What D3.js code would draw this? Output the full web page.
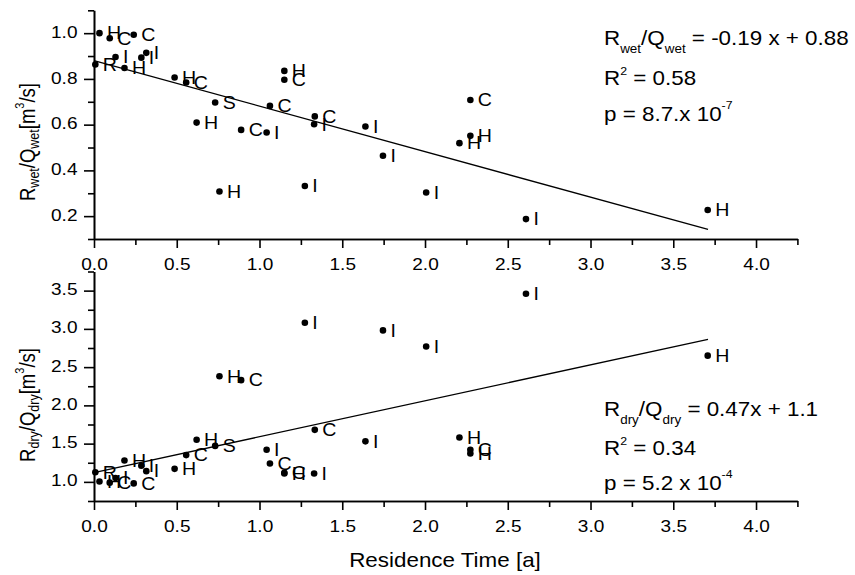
<!DOCTYPE html>
<html>
<head>
<meta charset="utf-8">
<script src="https://cdn.jsdelivr.net/npm/d3@7"></script>
<style>
  body { margin: 0; background: #fff; }
  svg { font-family: "Liberation Sans", Arial, sans-serif; }
  .axis path, .axis line { stroke: #000; stroke-width: 1.6px; }
  .axis text { fill: #000; font-size: 17px; }
</style>
</head>
<body>
<svg width="855" height="575"></svg>
<script>
// site type of each catchment
const sites = ["R","H","C","I","H","C","I","I","H","C",
               "H","S","H","C","I","C","H","C","I","I",
               "C","I","I","I","H","C","H","I","H"];
// residence time [a]
const residenceTime = [0.008,0.033,0.095,0.13,0.184,0.24,0.286,0.316,0.487,0.557,
                       0.62,0.732,0.758,0.889,1.043,1.063,1.15,1.15,1.274,1.33,
                       1.334,1.64,1.746,2.007,2.208,2.274,2.274,2.61,3.708];
// R_wet / Q_wet
const wetRatio = [0.863,1.0,0.978,0.896,0.848,0.993,0.893,0.914,0.806,0.784,
                  0.609,0.697,0.308,0.577,0.566,0.682,0.835,0.796,0.332,0.602,
                  0.636,0.592,0.464,0.303,0.519,0.708,0.551,0.187,0.227];
// R_dry / Q_dry
const dryRatio = [1.125,1.005,0.99,1.05,1.28,0.98,1.21,1.14,1.17,1.35,
                  1.55,1.47,2.38,2.33,1.42,1.24,1.11,1.12,3.08,1.11,
                  1.68,1.53,2.98,2.77,1.58,1.42,1.37,3.46,2.65];

// linear fits [slope, intercept] and the x range they are drawn over
const wetFit = [-0.199, 0.88];
const dryFit = [0.47, 1.12];
const fitRange = [0, 3.71];

// ticks
const xMajor = [0, 0.5, 1.0, 1.5, 2.0, 2.5, 3.0, 3.5, 4.0];
const xMinor = [0.25, 0.75, 1.25, 1.75, 2.25, 2.75, 3.25, 3.75, 4.25];
const wetMajor = [0.2, 0.4, 0.6, 0.8, 1.0];
const wetMinor = [0.1, 0.3, 0.5, 0.7, 0.9, 1.1];
const dryMajor = [1.0, 1.5, 2.0, 2.5, 3.0, 3.5];
const dryMinor = [0.75, 1.25, 1.75, 2.25, 2.75, 3.25, 3.75];

const stretch = 1.12; // text in the original is a bit wide

const svg = d3.select("svg");

const x = d3.scaleLinear().domain([0, 4.25]).range([94, 797.4]);
const yWet = d3.scaleLinear().domain([0.1, 1.1]).range([239, 10.3]);
const yDry = d3.scaleLinear().domain([0.75, 3.75]).range([501, 271.5]);

const fmt = d3.format(".1f");

function drawPanel(y, values, fit, major, minor) {
  const x0 = y.range()[0];

  // x axis
  svg.append("g").attr("class", "axis")
    .attr("transform", "translate(0," + x0 + ")")
    .call(d3.axisBottom(x).tickValues(xMinor).tickSize(6).tickSizeOuter(0).tickFormat(""));
  const xa = svg.append("g").attr("class", "axis")
    .attr("transform", "translate(0," + x0 + ")")
    .call(d3.axisBottom(x).tickValues(xMajor).tickSize(9).tickSizeOuter(0).tickPadding(10).tickFormat(fmt));
  xa.selectAll("text").attr("transform", "scale(" + stretch + ",1)");

  // y axis
  svg.append("g").attr("class", "axis")
    .attr("transform", "translate(" + x.range()[0] + ",0)")
    .call(d3.axisLeft(y).tickValues(minor).tickSize(6).tickSizeOuter(0).tickFormat(""));
  const ya = svg.append("g").attr("class", "axis")
    .attr("transform", "translate(" + x.range()[0] + ",0)")
    .call(d3.axisLeft(y).tickValues(major).tickSize(10).tickSizeOuter(0).tickFormat(fmt));
  ya.selectAll("text")
    .attr("x", -16.5 / stretch)
    .attr("dy", "0.24em")
    .attr("transform", "scale(" + stretch + ",1)");

  // fit line
  svg.append("line")
    .attr("x1", x(fitRange[0])).attr("y1", y(fit[0] * fitRange[0] + fit[1]))
    .attr("x2", x(fitRange[1])).attr("y2", y(fit[0] * fitRange[1] + fit[1]))
    .attr("stroke", "#000").attr("stroke-width", 1.3);

  // points + site labels
  const pts = svg.append("g").selectAll("g")
    .data(values.map((v, i) => ({ x: residenceTime[i], y: v, s: sites[i] })))
    .enter().append("g");
  pts.append("circle")
    .attr("cx", d => x(d.x)).attr("cy", d => y(d.y))
    .attr("r", 3.3).attr("fill", "#000");
  pts.append("text")
    .attr("transform", d => "translate(" + (x(d.x) + 7.5) + "," + y(d.y) + ") scale(" + stretch + ",1)")
    .attr("dy", "0.36em")
    .attr("font-size", 17.5)
    .text(d => d.s);
}

drawPanel(yWet, wetRatio, wetFit, wetMajor, wetMinor);
drawPanel(yDry, dryRatio, dryFit, dryMajor, dryMinor);

// y axis titles (rotated, glyphs widened across the axis)
function yTitle(cy, sub) {
  const t = svg.append("text")
    .attr("transform", "translate(35," + cy + ") scale(1.22,1) rotate(-90)")
    .attr("text-anchor", "middle")
    .attr("font-size", 18.5);
  t.append("tspan").text("R");
  t.append("tspan").attr("font-size", 12.5).attr("dy", 3.5).text(sub);
  t.append("tspan").attr("dy", -3.5).text("/Q");
  t.append("tspan").attr("font-size", 12.5).attr("dy", 3.5).text(sub);
  t.append("tspan").attr("dy", -3.5).text("[m");
  t.append("tspan").attr("font-size", 11).attr("dy", -9).text("3");
  t.append("tspan").attr("dy", 9).text("/s]");
}
yTitle(142, "wet");
yTitle(405, "dry");

// x axis title
svg.append("text")
  .attr("transform", "translate(445,567) scale(" + stretch + ",1)")
  .attr("text-anchor", "middle")
  .attr("font-size", 20)
  .text("Residence Time [a]");

// regression annotations
function note(x0, y0) {
  return svg.append("text")
    .attr("transform", "translate(" + x0 + "," + y0 + ") scale(" + stretch + ",1)")
    .attr("font-size", 20);
}
function fitNote(y0, sub, rest) {
  const t = note(604, y0);
  t.append("tspan").text("R");
  t.append("tspan").attr("font-size", 12).attr("dy", 8).text(sub);
  t.append("tspan").attr("dy", -8).text("/Q");
  t.append("tspan").attr("font-size", 12).attr("dy", 8).text(sub);
  t.append("tspan").attr("dy", -8).text(rest);
}
function r2Note(y0, val) {
  const t = note(604, y0);
  t.append("tspan").text("R");
  t.append("tspan").attr("font-size", 11).attr("dy", -10).text("2");
  t.append("tspan").attr("dy", 10).text(" = " + val);
}
function pNote(y0, mant, ex) {
  const t = note(604, y0);
  t.append("tspan").text("p = " + mant + " 10");
  t.append("tspan").attr("font-size", 11).attr("dy", -12).text(ex);
}

fitNote(44.5, "wet", " = -0.19 x + 0.88");
r2Note(85, "0.58");
pNote(120.7, "8.7.x", "-7");

fitNote(415.7, "dry", " = 0.47x + 1.1");
r2Note(455, "0.34");
pNote(489.5, "5.2 x", "-4");
</script>
</body>
</html>
